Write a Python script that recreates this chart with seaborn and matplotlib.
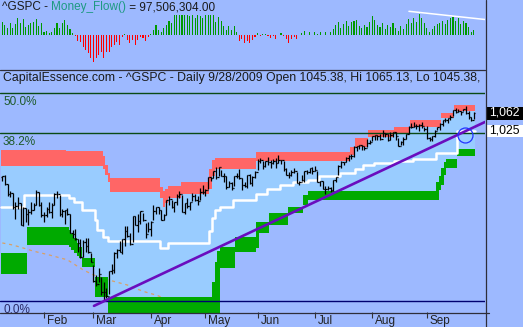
import numpy as np
import pandas as pd
import matplotlib
matplotlib.use("Agg")
import matplotlib.pyplot as plt
import matplotlib.patches as mpatches
import seaborn as sns
from matplotlib.lines import Line2D

# ---------------- data ----------------
months = ["Feb", "Mar", "Apr", "May", "Jun", "Jul", "Aug", "Sep"]
month_start_bar = [16, 35, 57, 78, 98, 120, 142, 163]

close = [
    909.73, 890.35, 870.26, 871.79, 842.62, 843.74, 850.12, 805.22, 840.24, 827.50, 831.95, 836.57, 845.71, 874.09, 845.14, 825.88,
    825.44, 838.51, 832.23, 845.85, 868.60, 869.89, 827.16, 833.74, 835.19, 826.84, 789.17, 788.42, 778.94, 770.05, 743.33, 773.14, 764.90, 752.83, 735.09,
    700.82, 696.33, 712.87, 682.55, 683.38, 676.53, 719.60, 721.36, 750.74, 756.55, 753.89, 778.12, 794.35, 784.04, 768.54, 822.92, 806.12, 813.88, 832.86, 815.94, 787.53, 797.87,
    811.08, 834.38, 842.50, 835.48, 815.55, 825.16, 856.56, 858.73, 841.50, 852.06, 865.30, 869.60, 832.39, 850.08, 843.55, 851.92, 866.23, 857.51, 855.16, 873.64, 872.81,
    877.52, 907.24, 903.80, 919.53, 907.39, 929.23, 909.24, 908.35, 883.92, 893.07, 882.88, 909.71, 908.13, 903.47, 888.33, 887.00, 910.33, 893.06, 906.83, 919.14,
    942.87, 944.74, 931.76, 942.46, 940.09, 939.14, 942.43, 939.15, 944.89, 946.21, 923.72, 911.97, 910.71, 918.37, 921.23, 893.04, 895.10, 900.94, 920.26, 918.90, 927.23, 919.32,
    923.33, 896.42, 898.72, 881.03, 879.56, 882.68, 879.13, 901.05, 905.84, 932.68, 940.74, 940.38, 951.13, 954.58, 954.07, 976.29, 979.26, 982.18, 979.62, 975.15, 986.75, 987.48,
    1002.63, 1005.65, 1002.72, 997.08, 1010.48, 1007.10, 994.35, 1005.81, 1012.73, 1004.09, 979.73, 989.67, 996.46, 1007.37, 1026.13, 1025.57, 1028.00, 1028.12, 1030.98, 1028.93, 1020.62,
    998.04, 994.75, 1003.24, 1016.40, 1025.39, 1033.37, 1044.14, 1042.73, 1049.34, 1052.63, 1068.76, 1065.49, 1068.30, 1064.66, 1071.66, 1060.87, 1050.78, 1044.38, 1062.98,
]
high = [
    910.00, 911.93, 890.40, 877.02, 871.79, 851.59, 863.24, 849.64, 841.72, 839.74, 838.22, 852.53, 850.45, 877.86, 874.09, 851.66,
    830.78, 842.60, 851.85, 850.55, 870.75, 875.01, 868.05, 838.22, 835.91, 839.43, 826.84, 796.17, 797.58, 778.69, 777.85, 775.49, 780.12, 779.42, 751.27,
    729.57, 711.67, 724.12, 708.27, 699.09, 689.87, 719.60, 731.92, 752.63, 758.29, 774.53, 778.12, 803.04, 803.24, 788.91, 823.37, 823.65, 826.78, 832.98, 828.68, 809.07, 810.48,
    813.62, 845.61, 842.50, 842.50, 835.48, 828.42, 856.91, 864.31, 856.53, 853.05, 870.35, 875.63, 868.27, 850.09, 861.78, 852.87, 871.80, 868.83, 864.48, 882.06, 888.70,
    880.48, 907.85, 907.70, 920.28, 929.58, 930.17, 922.99, 915.57, 908.35, 896.97, 896.65, 910.00, 916.39, 924.60, 903.47, 896.30, 911.76, 913.84, 909.45, 920.02,
    947.77, 949.38, 942.51, 942.47, 951.69, 946.33, 946.99, 949.77, 956.23, 946.30, 942.45, 928.00, 918.44, 921.93, 927.09, 918.13, 898.69, 910.85, 921.42, 922.00, 927.99, 930.01,
    931.92, 921.24, 898.72, 898.60, 886.80, 887.86, 883.57, 901.05, 905.84, 933.95, 943.96, 941.89, 951.62, 956.53, 959.83, 979.42, 979.79, 982.49, 982.18, 977.76, 996.68, 993.18,
    1003.61, 1005.65, 1006.64, 1008.00, 1018.00, 1010.12, 1007.10, 1012.73, 1013.14, 1012.60, 998.08, 991.20, 999.85, 1008.92, 1027.59, 1035.82, 1037.75, 1032.47, 1033.33, 1039.47, 1025.21,
    1028.45, 1000.34, 1003.43, 1018.19, 1026.07, 1036.34, 1044.14, 1048.18, 1049.74, 1056.04, 1068.76, 1074.77, 1071.52, 1067.85, 1073.81, 1080.15, 1066.29, 1052.75, 1065.13,
]
low = [
    896.81, 888.31, 864.32, 862.02, 838.26, 817.04, 838.23, 804.47, 804.30, 811.29, 806.07, 827.69, 835.40, 845.73, 844.20, 821.67,
    812.29, 821.98, 829.18, 819.91, 845.42, 861.65, 822.99, 822.30, 808.06, 825.21, 789.11, 780.43, 777.03, 754.25, 742.37, 743.33, 752.89, 751.75, 734.52,
    699.70, 692.30, 698.96, 677.93, 666.79, 672.88, 679.28, 713.85, 714.76, 742.46, 753.37, 749.93, 765.64, 781.82, 766.20, 772.31, 805.48, 791.37, 806.85, 813.43, 779.81, 790.88,
    783.32, 814.53, 826.70, 826.83, 814.54, 814.84, 825.16, 845.35, 840.25, 831.29, 847.04, 860.87, 832.39, 826.83, 840.57, 835.58, 853.91, 854.65, 847.12, 856.85, 868.51,
    866.10, 879.21, 897.34, 903.95, 901.36, 909.03, 908.68, 896.46, 879.61, 883.75, 878.94, 886.07, 905.22, 901.37, 879.00, 884.83, 881.46, 891.87, 887.60, 903.56,
    923.26, 938.46, 923.85, 929.26, 934.13, 926.44, 936.72, 927.97, 939.04, 935.66, 919.65, 911.60, 903.78, 907.94, 915.80, 893.04, 888.86, 896.93, 896.27, 913.03, 916.18, 912.86,
    920.82, 896.42, 886.36, 879.93, 869.32, 878.45, 872.81, 875.32, 896.50, 910.15, 927.45, 934.65, 940.99, 943.22, 947.75, 953.27, 965.95, 972.29, 969.41, 968.65, 976.01, 982.85,
    990.22, 994.31, 994.31, 992.49, 1001.01, 1000.99, 991.97, 993.36, 1000.82, 994.60, 978.51, 980.62, 980.62, 996.39, 1009.06, 1022.48, 1026.21, 1021.57, 1016.20, 1023.13, 1014.62,
    996.28, 991.97, 992.25, 1001.85, 1018.67, 1018.67, 1028.04, 1038.40, 1035.00, 1043.42, 1052.87, 1061.20, 1064.27, 1057.46, 1066.36, 1060.39, 1045.85, 1041.17, 1045.38,
]
first_open = 906.65

# Money flow (millions)
money_flow_m = [
    260, 200, 140, 240, 140, 220, 340, 240, 320, 160, 200, 240, 260, 320, 180, 240, 60, 80, 40, 60,
    140, 240, 140, 240, 300, 200, 120, 40, -20, -120, -140, -240, -300, -360, -460, -540, -460, -400, -340, -460,
    -340, -340, -240, -200, -140, -200, -40, 20, -100, -160, -100, -200, -100, -40, -60, -120, -40, 20, 100, 200,
    100, 60, 140, 200, 280, 240, 400, 400, 400, 400, 400, 400, 380, 400, 340, 400, 380,
    340, 400, 400, 400, 400, 260, 360, 280, 180, 100, 180, 100, 180, 60, -120, -80, -160, -120, -160, -100,
    -40, 40, -20, 20, 20, -20, -60, -20, -80, 0, 40, -20, -80, -160, -80, -40, -80, 0, 40, 80,
    0, 60, 0, 60, 20, 60, 0, 60, 0, 60, 120, 200, 260, 140, 220, 280, 180, 260, 280,
    300, 180, 140, 200, 160, 260, 380, 300, 200, 160, 240, 120, 200, 160, 240, 140, 80, 180, 120, 220,
    320, 240, 340, 260, 420, 340, 240, 140, 60, 120, 180, 220, 240, 280, 220, 300, 340, 360, 280, 340,
    220, 280, 240, 160, 60, 97.5,
]
mf_trend_bar = [156.1, 185.3]
mf_trend_val = [474, 310]

# channel bands: (number of bars, price)
red_top_runs = [(25, 969), (14, 966), (1, 955), (1, 935), (1, 916), (19, 905), (1, 885), (1, 875), (1, 880),
                (5, 887), (11, 896), (1, 925), (1, 945), (16, 950), (36, 964.7), (2, 976), (5, 998),
                (10, 1018), (6, 1026), (12, 1044), (5, 1062), (8, 1083)]
red_bot_runs = [(39, 932), (1, 925), (1, 911), (1, 895), (19, 873), (1, 860), (1, 842), (1, 850), (5, 861),
                (11, 869), (1, 880), (1, 910), (16, 925), (36, 943.6), (2, 957), (5, 976), (10, 1002),
                (6, 1011), (12, 1026), (5, 1049), (8, 1067)]
green_top_runs = [(10, 752), (16, 801), (1, 795), (1, 787), (1, 779), (1, 770), (1, 762), (5, 742), (5, 708),
                  (40, 674), (1, 700), (1, 735), (1, 755), (6, 763), (8, 782), (5, 811), (7, 830), (6, 842),
                  (2, 867), (49, 876), (1, 895), (1, 910), (1, 928), (1, 940), (4, 948), (7, 972)]
green_bot_runs = [(10, 714), (16, 767), (1, 762), (1, 757), (1, 751), (1, 746), (1, 742), (5, 726), (5, 674),
                  (43, 640), (6, 724), (8, 753), (1, 761), (4, 790), (7, 805), (6, 830), (2, 846), (50, 857),
                  (1, 878), (1, 889), (1, 911), (4, 927), (7, 955)]
white_runs = [(9, 842), (17, 867), (2, 861), (3, 853), (5, 836), (1, 815), (2, 795), (2, 782), (20, 774),
              (3, 761), (16, 770), (1, 793), (1, 819), (2, 836), (5, 842), (9, 857), (4, 870), (5, 880),
              (5, 889), (6, 895), (4, 900), (8, 909), (6, 916), (3, 925), (4, 934), (8, 939), (7, 944),
              (9, 948), (8, 962), (7, 1016)]

fib_levels = [666.79, 1009.96, 1115.97]
fib_labels = ["0.0%", "38.2%", "50.0%"]

ma_bar = [0, 4, 8, 12, 18, 25, 31, 35, 41, 48, 51, 55, 59, 63, 70, 80]
ma_val = [770.5, 766.6, 761, 755, 748, 739, 721, 712, 703, 694.5, 688.7, 682.5, 677.5, 671, 662, 648]

trend_bar = [35.2, 185.3]
trend_val = [659.6, 1038.7]

circle_bar, circle_val = 177.6, 1007.0
last_close_text = "1,062"
trend_label_text, trend_label_val = "1,025", 1025.31

# ---------------- style ----------------
BG = "#9DB9FF"
LIGHT = "#99CCFF"
RED = "#FF6666"
GREEN = "#00AA00"
sns.set_theme(style="white")
plt.rcParams["font.family"] = ["Liberation Sans", "DejaVu Sans"]

W, H = 523, 327
fig = plt.figure(figsize=(W / 100, H / 100), dpi=100)
fig.patch.set_facecolor(BG)


def px_rect(x0, y0, x1, y1):
    return [x0 / W, 1 - y1 / H, (x1 - x0) / W, (y1 - y0) / H]


XL = (-0.88, 185.3)
n = len(close)
idx = np.arange(n)

# ---------------- money flow panel ----------------
ax_mf = fig.add_axes(px_rect(0, 0, 485, 69))
ax_mf.set_facecolor(BG)
mf = pd.DataFrame({"bar": idx, "mf": money_flow_m,
                   "sign": np.where(np.array(money_flow_m) >= 0, "pos", "neg")})
sns.barplot(data=mf, x="bar", y="mf", hue="sign", palette={"pos": "#009900", "neg": "#FF0000"},
            native_scale=True, dodge=False, width=0.42, saturation=1, legend=False,
            errorbar=None, linewidth=0, ax=ax_mf)
sns.lineplot(x=mf_trend_bar, y=mf_trend_val, color="white", lw=1.1, ax=ax_mf)
ax_mf.set_xlim(*XL)
ax_mf.set_ylim(-680, 700)
ax_mf.axis("off")

# ---------------- price panel ----------------
ax = fig.add_axes(px_rect(0, 69, 485, 312))
ax.set_facecolor(BG)
ax.set_yscale("log")


def expand(runs):
    return np.repeat([v for c, v in runs], [c for c, v in runs]).astype(float)


edges = np.arange(n + 1) - 0.5
rt, rb = expand(red_top_runs), expand(red_bot_runs)
gt, gb = expand(green_top_runs), expand(green_bot_runs)
wl = expand(white_runs)
ext = lambda a: np.append(a, a[-1])

ax.fill_between(edges, ext(gt), ext(rb), step="post", color=LIGHT, lw=0, zorder=1)
ax.fill_between(edges, ext(rb), ext(rt), step="post", color=RED, lw=0, zorder=2)
ax.fill_between(edges, ext(gb), ext(gt), step="post", color=GREEN, lw=0, zorder=2)
ax.plot(edges, ext(wl), drawstyle="steps-post", color="white", lw=1.8, zorder=3)

sns.lineplot(x=ma_bar, y=ma_val, color="#D9A066", lw=0.9, ax=ax, zorder=1.5,
             linestyle=(0, (2.5, 3)))

fib_colors = ["#000070", "#0A4A14", "#0A4A14"]
fib_text_colors = ["#2A2A66", "#1E5A2A", "#1E5A2A"]
for lvl, lab, c, tc in zip(fib_levels, fib_labels, fib_colors, fib_text_colors):
    ax.axhline(lvl, color=c, lw=1.0, zorder=3.5)
    ax.annotate(lab, xy=(0, lvl), xycoords=("axes fraction", "data"), xytext=(3, -3),
                textcoords="offset pixels", ha="left", va="top", fontsize=8.5, color=tc, zorder=6)

# OHLC bars
opens = [first_open] + close[:-1]
ax.vlines(idx, low, high, color="black", lw=0.9, zorder=4)
ax.hlines(close, idx, idx + 0.5, color="black", lw=0.9, zorder=4)
ax.hlines(opens, idx - 0.5, idx, color="black", lw=0.9, zorder=4)

sns.lineplot(x=trend_bar, y=trend_val, color="#6A0DBE", lw=1.9, ax=ax, zorder=5)
ax.plot([circle_bar], [circle_val], marker="o", ms=10.8, mfc="none", mec="#2233FF", mew=0.9, zorder=6)

ax.set_xlim(*XL)
ax.set_ylim(649.7, 1183.9)
ax.set_yticks([])
ax.minorticks_off()
ax.set_xticks(month_start_bar)
ax.set_xticklabels([])
ax.set_xlabel("")
ax.set_ylabel("")
ax.tick_params(axis="x", bottom=True, length=4.3, width=0.8, color="#333333", direction="out")
ax.tick_params(axis="y", left=False, right=False, which="both")
for s in ax.spines.values():
    s.set_visible(False)
for m, b in zip(months, month_start_bar):
    ax.annotate(m, xy=(b, 0), xycoords=("data", "axes fraction"), xytext=(3, -3),
                textcoords="offset pixels", ha="left", va="top", fontsize=8.5, color="#222222")

# right-side value labels: boxes run to the figure edge (drawn beneath the axes layer)
fig.patches.append(mpatches.Rectangle((487 / W, 1 - 119.5 / H), 36 / W, 12.5 / H,
                                      transform=fig.transFigure, fc="black", ec="none", zorder=-1))
fig.patches.append(mpatches.Rectangle((487 / W, 1 - 137 / H), 36 / W, 12.5 / H,
                                      transform=fig.transFigure, fc="white", ec="none", zorder=-1))
ax.annotate(last_close_text, xy=(1.0, close[-1]), xycoords=("axes fraction", "data"), xytext=(4, 0),
            textcoords="offset pixels", ha="left", va="center", fontsize=8.8, color="white",
            annotation_clip=False, zorder=10)
ax.annotate(trend_label_text, xy=(1.0, trend_label_val), xycoords=("axes fraction", "data"), xytext=(4, -3),
            textcoords="offset pixels", ha="left", va="center", fontsize=8.8, color="black",
            annotation_clip=False, zorder=10)

# frame lines
LC = "#2E2E3A"
fig.add_artist(Line2D([0, 485 / W], [1 - 69.5 / H] * 2, color=LC, lw=0.9, transform=fig.transFigure))
fig.add_artist(Line2D([0, 489 / W], [1 - 312.5 / H] * 2, color=LC, lw=0.9, transform=fig.transFigure))
fig.add_artist(Line2D([485.5 / W] * 2, [0, 1], color=LC, lw=0.9, transform=fig.transFigure))

# titles
r = fig.canvas.get_renderer()
x = 2
for s, c in [("^GSPC - ", "#1A1A1A"), ("Money_Flow()", "#1E9A82"), (" = 97,506,304.00", "#1A1A1A")]:
    t = fig.text(x / W, 1 - 7 / H, s, color=c, fontsize=8.5, va="center", ha="left")
    x += t.get_window_extent(renderer=r).width
fig.text(3 / W, 1 - 78 / H,
         "CapitalEssence.com - ^GSPC - Daily 9/28/2009 Open 1045.38, Hi 1065.13, Lo 1045.38,",
         color="#1A1A1A", fontsize=8.8, va="center", ha="left")

fig.savefig("out.png", dpi=100, facecolor=BG)
